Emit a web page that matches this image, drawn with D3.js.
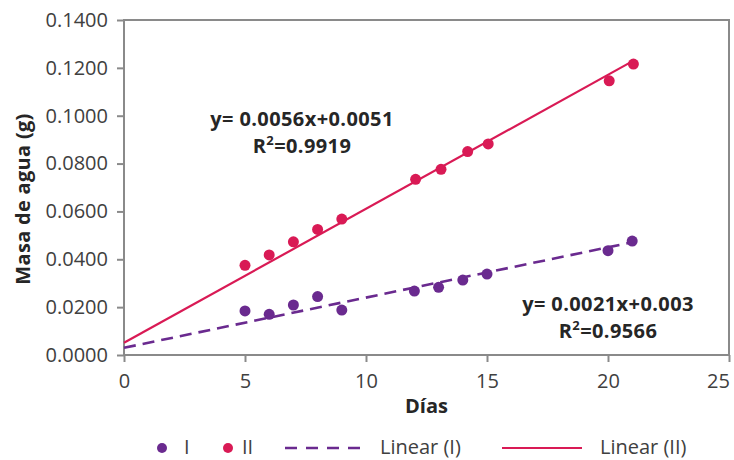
<!DOCTYPE html>
<html>
<head>
<meta charset="utf-8">
<script src="https://cdn.jsdelivr.net/npm/d3@7"></script>
<style>
  body { margin: 0; background: #fff; }
  svg { display: block; font-family: "Open Sans", sans-serif; }
</style>
</head>
<body>
<div id="chart"></div>
<script>
// Data
const diasI = [5, 6, 7, 8, 9, 12, 13, 14, 15, 20, 21];
const masaI = [0.0184, 0.0170, 0.0209, 0.0244, 0.0188, 0.0267, 0.0283, 0.0313, 0.0338, 0.0436, 0.0476];
const diasII = [5, 6, 7, 8, 9, 12.05, 13.1, 14.2, 15.05, 20.05, 21.05];
const masaII = [0.0375, 0.0418, 0.0473, 0.0525, 0.0568, 0.0734, 0.0776, 0.0850, 0.0882, 0.1146, 0.1216];
// trend lines: [slope, intercept]
const trendI = [0.0021, 0.003];
const trendII = [0.0056, 0.0051];
const trendRange = [0, 21];
const xTicks = [0, 5, 10, 15, 20, 25];
const yTicks = [0, 0.02, 0.04, 0.06, 0.08, 0.1, 0.12, 0.14];

const purple = "#6a2a8f";
const red = "#d91a55";
const textColor = "#404040";

function draw() {
  const dimensions = {
    width: 734,
    height: 460,
    left: 124,
    right: 5,
    top: 20,
    bottom: 105,
  };
  dimensions.ctrWidth = dimensions.width - dimensions.left - dimensions.right;
  dimensions.ctrHeight = dimensions.height - dimensions.top - dimensions.bottom;

  const svg = d3
    .select("#chart")
    .append("svg")
    .attr("width", dimensions.width)
    .attr("height", dimensions.height);

  const ctr = svg
    .append("g")
    .attr("transform", `translate(${dimensions.left}, ${dimensions.top})`);

  // Scales
  const xScale = d3.scaleLinear().domain([0, 25]).range([0, dimensions.ctrWidth]);
  const yScale = d3.scaleLinear().domain([0, 0.14]).range([dimensions.ctrHeight, 0]);

  // Axes
  const xAxis = d3.axisBottom(xScale).tickValues(xTicks).tickSize(7).tickPadding(12);
  const yAxis = d3
    .axisLeft(yScale)
    .tickValues(yTicks)
    .tickSize(7)
    .tickPadding(9)
    .tickFormat(d3.format(".4f"));

  const xAxisGroup = ctr
    .append("g")
    .attr("transform", `translate(0,${dimensions.ctrHeight})`)
    .call(xAxis);
  const yAxisGroup = ctr.append("g").call(yAxis);

  [xAxisGroup, yAxisGroup].forEach((g) => {
    g.select(".domain").remove();
    g.selectAll(".tick line").attr("stroke", "#8a8a8a").attr("stroke-width", 2);
    g.selectAll(".tick text")
      .attr("fill", textColor)
      .style("font-size", "20px")
      .style("font-family", "'Open Sans', sans-serif");
  });
  // last x label is pulled in to stay inside the picture
  xAxisGroup.selectAll(".tick text").filter((d) => d === 25).attr("dx", -11);

  // frame
  ctr
    .append("rect")
    .attr("width", dimensions.ctrWidth)
    .attr("height", dimensions.ctrHeight)
    .attr("fill", "none")
    .attr("stroke", "#8a8a8a")
    .attr("stroke-width", 2);

  // Trend lines
  const trendLine = (coef) =>
    trendRange.map((x) => [xScale(x), yScale(coef[0] * x + coef[1])]);

  ctr
    .append("path")
    .attr("d", d3.line()(trendLine(trendII)))
    .attr("fill", "none")
    .attr("stroke", red)
    .attr("stroke-width", 2.2);

  ctr
    .append("path")
    .attr("d", d3.line()(trendLine(trendI)))
    .attr("fill", "none")
    .attr("stroke", purple)
    .attr("stroke-width", 2.6)
    .attr("stroke-dasharray", "12,7");

  // Points
  ctr
    .append("g")
    .selectAll("circle")
    .data(d3.zip(diasI, masaI))
    .join("circle")
    .attr("cx", (d) => xScale(d[0]))
    .attr("cy", (d) => yScale(d[1]))
    .attr("r", 5.5)
    .attr("fill", purple);

  ctr
    .append("g")
    .selectAll("circle")
    .data(d3.zip(diasII, masaII))
    .join("circle")
    .attr("cx", (d) => xScale(d[0]))
    .attr("cy", (d) => yScale(d[1]))
    .attr("r", 5.5)
    .attr("fill", red);

  // Equation labels
  const eqLabel = (x, y, eq, r2) => {
    const g = svg
      .append("g")
      .attr("text-anchor", "middle")
      .attr("fill", "#262626")
      .style("font-weight", "bold")
      .style("font-size", "20px")
      .style("letter-spacing", "0.4px");
    g.append("text").attr("x", x).attr("y", y).text(eq);
    const t = g.append("text").attr("x", x).attr("y", y + 27);
    t.append("tspan").text("R");
    t.append("tspan").attr("dy", -8).style("font-size", "13px").text("2");
    t.append("tspan").attr("dy", 8).text("=" + r2);
  };
  eqLabel(302, 126, "y= 0.0056x+0.0051", "0.9919");
  eqLabel(608, 311, "y= 0.0021x+0.003", "0.9566");

  // Axis titles
  svg
    .append("text")
    .attr("x", dimensions.left + dimensions.ctrWidth / 2)
    .attr("y", 413)
    .attr("text-anchor", "middle")
    .attr("fill", "#262626")
    .style("font-weight", "bold")
    .style("font-size", "20px")
    .text("Días");

  svg
    .append("text")
    .attr("transform", "translate(30,199) rotate(-90)")
    .attr("text-anchor", "middle")
    .attr("fill", "#262626")
    .style("font-weight", "bold")
    .style("font-size", "20px")
    .style("letter-spacing", "0.3px")
    .text("Masa de agua (g)");

  // Legend
  const legend = svg.append("g").style("font-size", "20px").attr("fill", textColor);
  const ly = 448;
  const ty = 454;
  legend.append("circle").attr("cx", 162).attr("cy", ly).attr("r", 5).attr("fill", purple);
  legend.append("text").attr("x", 184).attr("y", ty).text("I");
  legend.append("circle").attr("cx", 228).attr("cy", ly).attr("r", 5).attr("fill", red);
  legend.append("text").attr("x", 242).attr("y", ty).text("II");
  legend
    .append("line")
    .attr("x1", 285).attr("x2", 360).attr("y1", ly).attr("y2", ly)
    .attr("stroke", purple).attr("stroke-width", 2.6).attr("stroke-dasharray", "12,9");
  legend.append("text").attr("x", 380).attr("y", ty).text("Linear (I)");
  legend
    .append("line")
    .attr("x1", 502).attr("x2", 582).attr("y1", ly).attr("y2", ly)
    .attr("stroke", red).attr("stroke-width", 2.2);
  legend.append("text").attr("x", 600).attr("y", ty).text("Linear (II)");
}

draw();
</script>
</body>
</html>
